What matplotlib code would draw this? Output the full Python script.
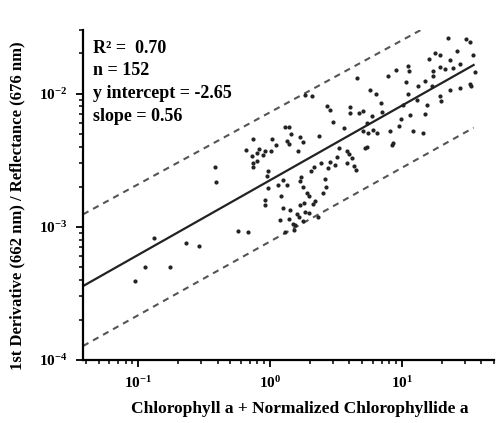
import matplotlib.pyplot as plt
import numpy as np

chl = [0.379, 0.388, 0.131, 0.231, 0.291, 0.113, 0.173, 0.095, 0.575, 0.685, 0.655,
       2.07, 1.84, 2.72, 2.85, 4.04, 4.04, 4.75, 2.99, 3.64, 1.30, 1.38, 1.44, 1.04,
       0.747, 1.69, 1.79, 2.35, 1.35, 1.38, 1.10, 0.830, 0.917, 1.01, 1.64, 0.734,
       0.889, 0.793, 0.740, 3.33, 3.81, 3.99, 5.25, 3.20, 2.43, 2.85, 2.74, 2.15,
       2.03, 3.81, 4.35, 4.48, 0.971, 1.72, 1.69, 1.26, 1.34, 1.14, 0.961, 1.79,
       1.90, 1.98, 2.66, 2.54, 0.917, 0.917, 1.69, 1.82, 2.13, 1.26, 1.42, 1.67,
       1.79, 1.97, 2.32, 1.19, 1.40, 1.55, 1.52, 1.30,
       22.4, 30.5, 32.7, 17.8, 19.4, 16.0, 23.1, 19.4, 21.2, 24.5, 27.5, 11.2,
       11.4, 9.01, 7.88, 17.3, 35.7, 10.7, 13.3, 16.8, 23.1, 32.7, 33.7, 5.72,
       6.32, 11.2, 19.4, 19.7, 15.4, 10.2, 5.09, 7.02, 11.5, 14.9, 5.89, 5.40,
       5.09, 6.06, 6.43, 5.55, 8.11, 9.54, 12.2, 14.5, 8.59, 8.35, 5.40,
       4.54, 27.5, 34.5, 17.2, 15.0, 0.80, 0.74, 1.60, 2.60, 3.10, 9.80, 13.0,
       2.20, 1.50, 1.20, 26.0, 6.90, 4.20, 0.95, 1.85]
ratio = [2.81e-3, 2.17e-3, 8.3e-4, 7.5e-4, 7.2e-4, 4.98e-4, 5.03e-4, 3.91e-4, 9.3e-4, 9.2e-4, 3.79e-3,
         9.55e-3, 9.8e-3, 8.1e-3, 7.5e-3, 7.9e-3, 7.2e-3, 7.2e-3, 6.1e-3, 5.5e-3, 5.6e-3, 5.6e-3, 4.98e-3, 4.59e-3,
         4.56e-3, 4.72e-3, 4.30e-3, 4.77e-3, 4.37e-3, 4.18e-3, 4.08e-3, 3.85e-3, 3.72e-3, 3.72e-3, 3.72e-3, 3.38e-3,
         3.48e-3, 3.13e-3, 2.81e-3, 3.91e-3, 3.68e-3, 3.54e-3, 3.91e-3, 3.34e-3, 3.01e-3, 3.04e-3, 2.76e-3, 2.81e-3,
         2.61e-3, 3.01e-3, 2.88e-3, 2.65e-3, 2.61e-3, 2.37e-3, 2.22e-3, 2.23e-3, 2.07e-3, 2.07e-3, 1.95e-3, 1.99e-3,
         1.79e-3, 1.69e-3, 1.99e-3, 1.79e-3, 1.58e-3, 1.46e-3, 1.45e-3, 1.52e-3, 1.49e-3, 1.38e-3, 1.34e-3, 1.19e-3,
         1.10e-3, 1.27e-3, 1.19e-3, 1.13e-3, 1.14e-3, 1.04e-3, 9.5e-4, 9.1e-4,
         2.62e-2, 2.59e-2, 2.45e-2, 2.02e-2, 1.94e-2, 1.82e-2, 1.80e-2, 1.58e-2, 1.53e-2, 1.56e-2, 1.67e-2, 1.60e-2,
         1.47e-2, 1.51e-2, 1.35e-2, 1.35e-2, 1.45e-2, 1.22e-2, 1.14e-2, 1.14e-2, 1.07e-2, 1.18e-2, 1.14e-2, 1.07e-2,
         9.95e-3, 9.95e-3, 9.55e-3, 8.85e-3, 8.26e-3, 8.26e-3, 7.45e-3, 7.28e-3, 6.95e-3, 7.03e-3, 6.75e-3, 6.02e-3,
         5.27e-3, 5.36e-3, 5.06e-3, 5.06e-3, 5.27e-3, 5.68e-3, 5.27e-3, 5.06e-3, 4.26e-3, 4.08e-3, 3.94e-3,
         1.30e-2, 1.10e-2, 1.96e-2, 1.48e-2, 1.25e-2, 3.6e-3, 3.0e-3, 1.25e-3, 2.3e-3, 2.9e-3, 6.4e-3, 9.0e-3,
         1.55e-3, 1.05e-3, 1.70e-3, 2.10e-2, 8.5e-3, 3.3e-3, 2.4e-3, 1.30e-3]

# regression and band lines (log10 y = intercept + slope * log10 x)
fit_intercept, fit_slope = -2.65, 0.56
upper_intercept, upper_slope = -2.14, 0.54
lower_intercept, lower_slope = -3.11, 0.553
line_x = [0.038, 35]
stats = ["R\u00b2 =  0.70", "n = 152", "y intercept = -2.65", "slope = 0.56"]

plt.rcParams['font.family'] = ['Liberation Serif', 'DejaVu Serif']
plt.rcParams['font.weight'] = 'bold'

fig = plt.figure(figsize=(4.97, 4.23), dpi=100)
ax = fig.add_axes([0.167, 0.149, 0.827, 0.780])

lx = np.log10(line_x)
ax.plot(line_x, 10 ** (fit_intercept + fit_slope * lx), color='#222222', lw=1.6)
ax.plot(line_x, 10 ** (upper_intercept + upper_slope * lx), color='#555555', lw=1.5,
        linestyle=(0, (3, 2.5)))
ax.plot(line_x, 10 ** (lower_intercept + lower_slope * lx), color='#555555', lw=1.5,
        linestyle=(0, (3, 2.5)))
ax.plot(chl, ratio, linestyle='none', marker='o', ms=2.0, color='#222222')

ax.set_xscale('log')
ax.set_yscale('log')
ax.set_xlim(0.038, 50)
ax.set_ylim(1e-4, 3e-2)

for s in ['top', 'right']:
    ax.spines[s].set_visible(False)
for s in ['left', 'bottom']:
    ax.spines[s].set_linewidth(1.6)

ax.tick_params(which='major', direction='out', length=5, width=1.3, labelsize=11, pad=6)
ax.tick_params(which='minor', direction='out', length=3, width=1.1)

for i, t in enumerate(stats):
    ax.text(0.025, 0.945 - i * 0.069, t, transform=ax.transAxes, fontsize=13,
            fontweight='bold', ha='left', va='center')

ax.set_xlabel("Chlorophyll a + Normalized Chlorophyllide a", fontsize=12.5,
              fontweight='bold')
ax.set_ylabel("1st Derivative (662 nm) / Reflectance (676 nm)", fontsize=12,
              fontweight='bold')
ax.xaxis.set_label_coords(0.528, -0.125)
ax.yaxis.set_label_coords(-0.14, 0.467)

fig.savefig("out.png", dpi=100)
